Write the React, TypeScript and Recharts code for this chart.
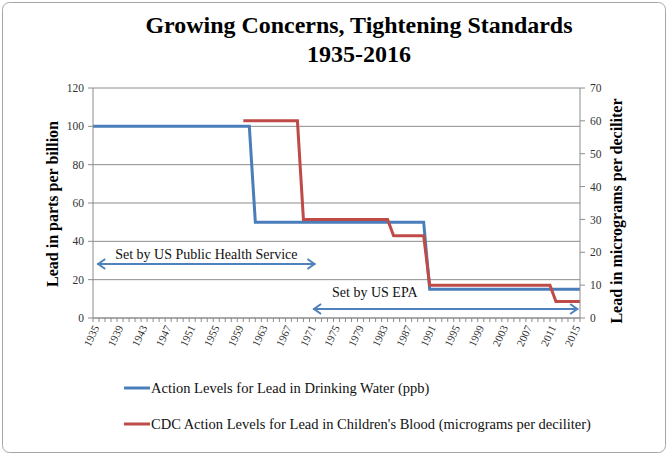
import React from "react";
import {
  LineChart,
  Line,
  XAxis,
  YAxis,
  CartesianGrid,
  Legend,
  ReferenceLine,
} from "recharts";

// years on the category axis
const years = [
  1935, 1936, 1937, 1938, 1939, 1940, 1941, 1942, 1943, 1944,
  1945, 1946, 1947, 1948, 1949, 1950, 1951, 1952, 1953, 1954,
  1955, 1956, 1957, 1958, 1959, 1960, 1961, 1962, 1963, 1964,
  1965, 1966, 1967, 1968, 1969, 1970, 1971, 1972, 1973, 1974,
  1975, 1976, 1977, 1978, 1979, 1980, 1981, 1982, 1983, 1984,
  1985, 1986, 1987, 1988, 1989, 1990, 1991, 1992, 1993, 1994,
  1995, 1996, 1997, 1998, 1999, 2000, 2001, 2002, 2003, 2004,
  2005, 2006, 2007, 2008, 2009, 2010, 2011, 2012, 2013, 2014,
  2015, 2016,
];

// drinking water action level, ppb (left axis)
const waterLevels = [
  100, 100, 100, 100, 100, 100, 100, 100, 100, 100,
  100, 100, 100, 100, 100, 100, 100, 100, 100, 100,
  100, 100, 100, 100, 100, 100, 100, 50, 50, 50,
  50, 50, 50, 50, 50, 50, 50, 50, 50, 50,
  50, 50, 50, 50, 50, 50, 50, 50, 50, 50,
  50, 50, 50, 50, 50, 50, 15, 15, 15, 15,
  15, 15, 15, 15, 15, 15, 15, 15, 15, 15,
  15, 15, 15, 15, 15, 15, 15, 15, 15, 15,
  15, 15,
];

// CDC blood lead level, micrograms per deciliter (right axis)
const bloodLevels: (number | null)[] = [
  null, null, null, null, null, null, null, null, null, null,
  null, null, null, null, null, null, null, null, null, null,
  null, null, null, null, null, 60, 60, 60, 60, 60,
  60, 60, 60, 60, 60, 30, 30, 30, 30, 30,
  30, 30, 30, 30, 30, 30, 30, 30, 30, 30,
  25, 25, 25, 25, 25, 25, 10, 10, 10, 10,
  10, 10, 10, 10, 10, 10, 10, 10, 10, 10,
  10, 10, 10, 10, 10, 10, 10, 5, 5, 5,
  5, 5,
];

const labeledYears = [
  1935, 1939, 1943, 1947, 1951, 1955, 1959, 1963, 1967, 1971, 1975,
  1979, 1983, 1987, 1991, 1995, 1999, 2003, 2007, 2011, 2015,
];
const leftTicks = [0, 20, 40, 60, 80, 100, 120];
const rightTicks = [0, 10, 20, 30, 40, 50, 60, 70];

const data = years.map((year, i) => ({
  year,
  water: waterLevels[i],
  blood: bloodLevels[i],
}));

const SERIF = '"Liberation Serif", "Times New Roman", serif';
const BLUE = "#4A7EBB";
const RED = "#BE4B48";
const ARROW = "#4F81BD";
const GRID = "#8c8c8c";

const XTick = (props: any) => {
  const { x, y, payload } = props;
  if (!labeledYears.includes(payload.value)) return null;
  return (
    <g transform={`translate(${x + 3},${y + 2}) rotate(-65)`}>
      <text
        x={0}
        y={0}
        dy="0.35em"
        textAnchor="end"
        fill="#333"
        style={{ fontFamily: SERIF, fontSize: 11 }}
      >
        {payload.value}
      </text>
    </g>
  );
};

// double-headed annotation arrow with its caption
const arrowShape =
  (label: string, textAt: "middle" | "start", dx: number, dy: number) =>
  (props: any) => {
    const { x1, y1, x2, y2 } = props;
    if (x1 == null) return null;
    const tx = textAt === "middle" ? (x1 + x2) / 2 : x1 + dx;
    return (
      <g>
        <line x1={x1} y1={y1} x2={x2} y2={y2} stroke={ARROW} strokeWidth={2} />
        <polyline
          points={`${x1 + 8},${y1 - 5} ${x1 + 1},${y1} ${x1 + 8},${y1 + 5}`}
          fill="none"
          stroke={ARROW}
          strokeWidth={2}
        />
        <polyline
          points={`${x2 - 8},${y2 - 5} ${x2 - 1},${y2} ${x2 - 8},${y2 + 5}`}
          fill="none"
          stroke={ARROW}
          strokeWidth={2}
        />
        <text
          x={tx}
          y={y1 + dy}
          textAnchor={textAt}
          fill="#111"
          style={{ fontFamily: SERIF, fontSize: 14 }}
        >
          {label}
        </text>
      </g>
    );
  };

const LegendContent = () => (
  <div style={{ fontFamily: SERIF, fontSize: 14.5, color: "#111" }}>
    {[
      { color: BLUE, text: "Action Levels for Lead in Drinking Water (ppb)" },
      {
        color: RED,
        text: "CDC Action Levels for Lead in Children's Blood (micrograms per deciliter)",
      },
    ].map((item, i) => (
      <div
        key={i}
        style={{
          display: "flex",
          alignItems: "center",
          height: 20,
          marginBottom: i === 0 ? 16 : 0,
          whiteSpace: "nowrap",
        }}
      >
        <svg width={26} height={6} style={{ marginRight: 1 }}>
          <line x1={0} y1={3} x2={26} y2={3} stroke={item.color} strokeWidth={3} />
        </svg>
        <span>{item.text}</span>
      </div>
    ))}
  </div>
);

const tickStyle = { fill: "#333", fontFamily: SERIF, fontSize: 11.5, style: { fontFamily: SERIF } };

export default function App() {
  return (
    <div style={{ width: 668, height: 455, background: "#fff" }}>
      <style>{"body{margin:0;}"}</style>
      <LineChart
        width={668}
        height={455}
        data={data}
        margin={{ top: 88, right: 0, left: 0, bottom: 97 }}
      >
        <rect
          x={2.5}
          y={2.5}
          width={663}
          height={450}
          rx={7}
          fill="none"
          stroke="#a6a6a6"
        />
        <text
          x={359}
          y={33}
          textAnchor="middle"
          fontFamily={SERIF}
          fontWeight="bold"
          fontSize={24}
          textLength={427}
          lengthAdjust="spacingAndGlyphs"
          fill="#000"
        >
          Growing Concerns, Tightening Standards
        </text>
        <text
          x={359}
          y={62}
          textAnchor="middle"
          fontFamily={SERIF}
          fontWeight="bold"
          fontSize={24}
          fill="#000"
        >
          1935-2016
        </text>
        <text
          x={58}
          y={204}
          transform="rotate(-90, 58, 204)"
          textAnchor="middle"
          fontFamily={SERIF}
          fontWeight="bold"
          fontSize={16}
          fill="#000"
        >
          Lead in parts per billion
        </text>
        <text
          x={622}
          y={211}
          transform="rotate(-90, 622, 211)"
          textAnchor="middle"
          fontFamily={SERIF}
          fontWeight="bold"
          fontSize={16}
          fill="#000"
        >
          Lead in micrograms per deciliter
        </text>

        <CartesianGrid
          yAxisId="left"
          vertical={false}
          stroke={GRID}
          strokeWidth={1}
        />
        <XAxis
          dataKey="year"
          type="number"
          domain={[1935, 2016]}
          ticks={years}
          interval={0}
          height={40}
          tickSize={4}
          tickLine={{ stroke: GRID }}
          axisLine={{ stroke: GRID }}
          tick={<XTick />}
        />
        <YAxis
          yAxisId="left"
          orientation="left"
          domain={[0, 120]}
          ticks={leftTicks}
          width={93}
          tickSize={5}
          tickMargin={4}
          tickLine={{ stroke: GRID }}
          axisLine={{ stroke: GRID }}
          tick={tickStyle}
        />
        <YAxis
          yAxisId="right"
          orientation="right"
          domain={[0, 70]}
          ticks={rightTicks}
          width={88}
          tickSize={5}
          tickMargin={5}
          tickLine={{ stroke: GRID }}
          axisLine={{ stroke: GRID }}
          tick={tickStyle}
        />
        <ReferenceLine
          yAxisId="left"
          segment={[
            { x: 1935.7, y: 28.2 },
            { x: 1972, y: 28.2 },
          ]}
          shape={arrowShape("Set by US Public Health Service", "middle", 0, -5)}
        />
        <ReferenceLine
          yAxisId="left"
          segment={[
            { x: 1971.6, y: 4.7 },
            { x: 2015.7, y: 4.7 },
          ]}
          shape={arrowShape("Set by US EPA", "start", 19, -12)}
        />
        <Line
          yAxisId="left"
          type="linear"
          dataKey="water"
          name="Action Levels for Lead in Drinking Water (ppb)"
          stroke={BLUE}
          strokeWidth={3}
          dot={false}
          activeDot={false}
          isAnimationActive={false}
        />
        <Line
          yAxisId="right"
          type="linear"
          dataKey="blood"
          name="CDC Action Levels for Lead in Children's Blood (micrograms per deciliter)"
          stroke={RED}
          strokeWidth={3}
          dot={false}
          activeDot={false}
          isAnimationActive={false}
        />
        <Legend
          layout="vertical"
          align="center"
          verticalAlign="middle"
          wrapperStyle={{ left: 124, top: 378, width: 520 }}
          content={<LegendContent />}
        />
      </LineChart>
    </div>
  );
}
